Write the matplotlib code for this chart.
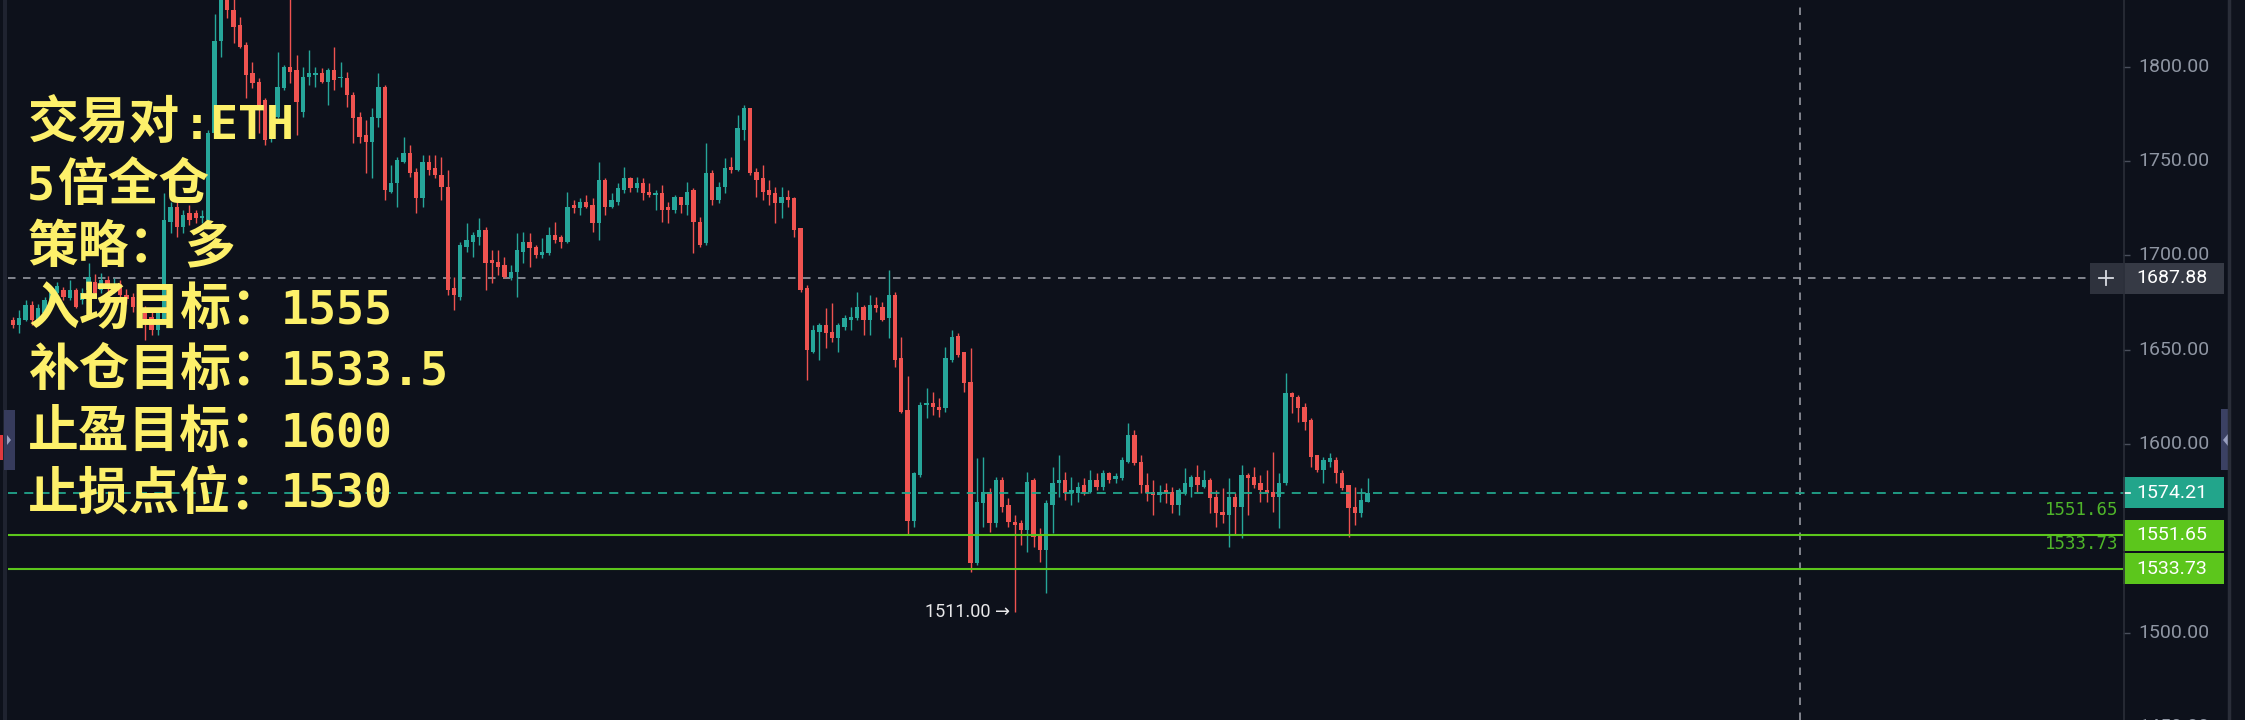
import matplotlib
matplotlib.use("Agg")
import matplotlib.pyplot as plt
from matplotlib.patches import Rectangle, Polygon
import matplotlib.transforms as mtransforms

# ---------------- data (ETH candles) ----------------
opens = [1665.8, 1663.1, 1665.8, 1673.7, 1666.0, 1669.3, 1676.0, 1680.0, 1681.7, 1677.3,
         1681.7, 1676.4, 1681.7, 1686.0, 1681.7, 1687.0, 1682.0, 1685.0, 1679.0, 1678.1,
         1673.0, 1671.0, 1667.5, 1660.5, 1665.8, 1718.0, 1725.9, 1715.3, 1722.4, 1722.4,
         1719.7, 1718.8, 1765.0, 1814.0, 1842.0, 1830.2, 1822.2, 1811.6, 1796.6, 1792.2,
         1782.5, 1762.0, 1773.6, 1788.6, 1800.1, 1798.4, 1776.3, 1794.8, 1795.7, 1796.6,
         1792.2, 1798.4, 1793.9, 1793.9, 1785.1, 1773.6, 1763.9, 1760.3, 1772.7, 1789.5,
         1733.8, 1738.3, 1749.8, 1754.2, 1744.4, 1730.3, 1749.8, 1746.2, 1742.7, 1736.5,
         1682.6, 1678.1, 1704.6, 1707.3, 1710.0, 1713.5, 1697.6, 1696.7, 1695.0, 1687.9,
         1691.4, 1702.0, 1707.3, 1704.6, 1700.2, 1701.1, 1710.8, 1710.0, 1707.3, 1726.8,
         1725.0, 1728.5, 1726.8, 1717.0, 1740.0, 1725.9, 1728.5, 1734.7, 1740.9, 1735.6,
         1738.3, 1733.8, 1732.1, 1733.0, 1725.9, 1724.1, 1731.2, 1726.8, 1734.8, 1718.0,
         1706.5, 1743.6, 1729.5, 1736.5, 1747.1, 1745.4, 1766.6, 1778.1, 1744.5, 1741.0,
         1734.8, 1733.0, 1727.7, 1731.2, 1730.3, 1714.4, 1682.6, 1649.0, 1659.6, 1663.2,
         1659.6, 1656.1, 1662.3, 1665.8, 1666.7, 1672.9, 1665.8, 1673.8, 1672.9, 1666.7,
         1679.0, 1645.5, 1618.0, 1558.9, 1583.6, 1620.7, 1622.0, 1619.8, 1619.0, 1644.6,
         1657.3, 1649.0, 1633.0, 1536.7, 1568.5, 1574.7, 1557.9, 1580.9, 1567.6, 1558.8,
         1557.9, 1554.4, 1580.9, 1551.7, 1543.8, 1567.6, 1579.1, 1580.9, 1574.2, 1573.8,
         1578.3, 1574.7, 1580.9, 1577.4, 1584.4, 1581.3, 1581.8, 1590.6, 1604.8, 1590.6,
         1578.3, 1574.7, 1573.0, 1575.6, 1574.7, 1567.6, 1573.8, 1577.4, 1582.7, 1577.4,
         1580.9, 1572.1, 1564.1, 1562.3, 1572.1, 1566.8, 1583.5, 1582.7, 1579.1, 1575.6,
         1574.7, 1572.1, 1579.1, 1626.9, 1625.1, 1619.8, 1612.7, 1594.2, 1586.2, 1590.6,
         1591.5, 1584.4, 1578.3, 1566.8, 1563.2, 1569.4]
highs = [1667.5, 1671.0, 1676.4, 1676.0, 1674.0, 1678.0, 1682.0, 1686.0, 1683.5, 1687.0,
         1682.6, 1683.0, 1695.8, 1690.0, 1690.5, 1689.0, 1688.0, 1687.0, 1682.0, 1680.0,
         1678.0, 1673.0, 1670.0, 1672.0, 1733.0, 1728.5, 1729.4, 1724.0, 1727.0, 1724.0,
         1724.0, 1766.5, 1828.0, 1848.0, 1850.0, 1838.0, 1826.7, 1813.4, 1802.8, 1794.0,
         1783.3, 1776.0, 1808.0, 1801.0, 1850.0, 1806.3, 1800.0, 1809.0, 1800.0, 1799.3,
         1799.3, 1810.8, 1802.8, 1797.5, 1786.9, 1776.3, 1771.9, 1778.0, 1796.6, 1790.4,
         1748.0, 1752.4, 1763.0, 1758.6, 1746.2, 1753.3, 1753.3, 1753.3, 1752.4, 1745.3,
         1688.8, 1707.0, 1717.0, 1712.6, 1719.7, 1715.3, 1702.9, 1702.9, 1699.4, 1695.0,
         1711.7, 1712.6, 1711.7, 1705.5, 1709.1, 1715.3, 1717.9, 1710.8, 1733.8, 1729.4,
         1730.3, 1732.0, 1730.3, 1749.8, 1740.9, 1733.0, 1738.3, 1747.1, 1741.8, 1741.8,
         1740.9, 1738.3, 1734.7, 1737.4, 1728.5, 1732.1, 1731.2, 1739.2, 1735.6, 1720.6,
         1759.5, 1745.4, 1739.2, 1751.6, 1752.4, 1774.5, 1779.8, 1778.1, 1746.3, 1748.0,
         1740.0, 1736.5, 1736.5, 1734.8, 1731.2, 1714.4, 1684.4, 1663.2, 1664.0, 1672.0,
         1674.7, 1664.0, 1668.5, 1672.9, 1680.8, 1673.8, 1679.0, 1678.1, 1675.5, 1692.3,
         1680.8, 1657.0, 1635.8, 1585.4, 1622.5, 1629.6, 1627.8, 1624.3, 1651.6, 1660.5,
         1658.7, 1649.0, 1650.7, 1592.4, 1593.3, 1576.5, 1582.7, 1582.7, 1571.2, 1562.3,
         1559.7, 1585.3, 1581.8, 1555.3, 1570.3, 1588.0, 1594.2, 1585.3, 1582.7, 1580.0,
         1581.8, 1586.2, 1584.4, 1586.2, 1585.3, 1584.4, 1593.3, 1611.0, 1607.4, 1594.2,
         1584.4, 1580.9, 1578.3, 1579.1, 1577.4, 1576.5, 1587.1, 1583.5, 1588.9, 1586.2,
         1581.8, 1575.6, 1576.5, 1581.8, 1573.8, 1588.9, 1584.4, 1588.0, 1583.5, 1586.2,
         1595.9, 1584.4, 1637.5, 1627.7, 1626.0, 1621.6, 1613.6, 1594.2, 1593.3, 1595.0,
         1593.3, 1586.2, 1578.3, 1577.4, 1576.5, 1581.8]
lows = [1661.4, 1658.7, 1665.0, 1663.0, 1664.0, 1668.0, 1674.0, 1678.0, 1676.4, 1676.4,
        1672.0, 1674.0, 1680.0, 1678.0, 1680.0, 1679.0, 1680.0, 1677.0, 1674.0, 1670.0,
        1669.0, 1655.2, 1658.0, 1658.0, 1664.0, 1711.7, 1710.0, 1712.0, 1716.0, 1717.0,
        1717.0, 1716.0, 1763.0, 1805.5, 1826.0, 1812.5, 1809.9, 1783.3, 1788.6, 1764.8,
        1758.6, 1760.0, 1772.7, 1787.8, 1791.3, 1763.9, 1773.6, 1790.4, 1789.5, 1791.3,
        1779.8, 1787.8, 1789.5, 1778.9, 1759.5, 1759.5, 1743.6, 1740.9, 1768.3, 1729.4,
        1733.0, 1725.9, 1748.9, 1741.8, 1722.3, 1725.9, 1742.7, 1740.9, 1729.4, 1679.0,
        1671.1, 1676.4, 1702.0, 1699.4, 1705.5, 1681.7, 1685.2, 1689.6, 1687.9, 1687.0,
        1678.1, 1695.8, 1694.0, 1698.5, 1698.5, 1700.2, 1706.4, 1703.8, 1706.4, 1722.3,
        1721.5, 1725.0, 1712.6, 1708.2, 1721.5, 1725.0, 1726.8, 1733.0, 1733.8, 1733.8,
        1729.4, 1731.2, 1724.1, 1718.0, 1717.0, 1722.3, 1722.3, 1721.5, 1701.2, 1704.7,
        1705.6, 1726.8, 1727.7, 1733.0, 1743.6, 1745.0, 1761.3, 1742.7, 1731.2, 1729.5,
        1726.8, 1717.1, 1719.7, 1725.9, 1710.0, 1680.8, 1634.0, 1648.1, 1644.6, 1650.8,
        1654.3, 1649.0, 1660.5, 1660.5, 1665.8, 1657.9, 1657.9, 1670.2, 1665.0, 1656.1,
        1641.1, 1616.3, 1551.8, 1556.2, 1582.7, 1613.7, 1615.4, 1614.5, 1617.2, 1643.7,
        1646.3, 1627.8, 1532.3, 1535.8, 1556.1, 1553.5, 1556.1, 1564.1, 1556.1, 1511.0,
        1546.4, 1542.9, 1545.5, 1537.6, 1520.8, 1552.6, 1572.1, 1570.3, 1567.6, 1569.4,
        1573.0, 1573.8, 1575.6, 1575.6, 1579.1, 1579.1, 1580.9, 1589.7, 1588.8, 1573.8,
        1570.0, 1562.3, 1569.4, 1568.5, 1563.2, 1562.3, 1572.9, 1572.1, 1574.7, 1576.5,
        1563.2, 1556.1, 1557.9, 1545.5, 1551.7, 1550.0, 1562.3, 1576.5, 1569.4, 1569.4,
        1564.1, 1555.2, 1578.3, 1616.2, 1611.8, 1607.4, 1588.0, 1585.3, 1579.1, 1588.0,
        1579.1, 1575.6, 1550.8, 1557.0, 1561.4, 1569.4]
closes = [1663.1, 1666.7, 1673.7, 1665.8, 1672.0, 1676.4, 1680.0, 1684.0, 1678.1, 1681.7,
          1672.9, 1679.9, 1688.8, 1679.9, 1687.0, 1682.0, 1685.0, 1679.0, 1677.0, 1672.9,
          1675.0, 1665.8, 1660.5, 1669.3, 1718.8, 1725.9, 1715.3, 1721.5, 1718.8, 1719.7,
          1721.0, 1764.8, 1814.0, 1840.0, 1830.0, 1821.4, 1810.8, 1795.7, 1791.3, 1778.9,
          1761.2, 1772.0, 1789.5, 1800.1, 1797.5, 1781.6, 1794.8, 1796.6, 1796.6, 1792.2,
          1798.4, 1793.1, 1794.8, 1785.1, 1772.7, 1763.0, 1760.3, 1773.6, 1789.5, 1734.7,
          1738.3, 1750.6, 1754.2, 1743.6, 1730.3, 1749.8, 1745.3, 1742.7, 1736.5, 1681.7,
          1679.0, 1705.5, 1708.2, 1710.8, 1713.5, 1695.8, 1695.8, 1694.0, 1688.8, 1691.4,
          1702.9, 1707.3, 1703.8, 1700.2, 1702.0, 1710.8, 1708.2, 1707.3, 1725.9, 1725.0,
          1728.5, 1725.9, 1717.0, 1740.0, 1725.9, 1729.4, 1735.6, 1740.9, 1735.6, 1738.3,
          1733.0, 1732.1, 1733.0, 1724.1, 1724.1, 1731.2, 1726.8, 1733.8, 1718.0, 1705.6,
          1743.6, 1729.5, 1736.5, 1746.3, 1745.4, 1767.5, 1778.1, 1743.6, 1740.0, 1733.9,
          1732.1, 1727.7, 1731.2, 1729.5, 1713.5, 1681.7, 1649.9, 1660.5, 1663.2, 1658.7,
          1656.1, 1663.2, 1666.7, 1667.6, 1672.9, 1665.8, 1673.8, 1672.0, 1665.8, 1679.0,
          1644.6, 1617.2, 1558.9, 1584.5, 1620.7, 1622.0, 1619.8, 1618.0, 1645.4, 1657.0,
          1647.2, 1632.2, 1536.7, 1569.4, 1574.7, 1557.9, 1580.9, 1566.8, 1558.8, 1557.0,
          1554.4, 1580.0, 1550.9, 1543.8, 1568.5, 1579.1, 1580.9, 1573.8, 1575.6, 1577.4,
          1574.7, 1580.9, 1577.4, 1584.4, 1580.9, 1583.0, 1591.5, 1604.8, 1589.7, 1578.3,
          1573.8, 1573.0, 1574.7, 1573.8, 1567.6, 1575.6, 1579.1, 1582.7, 1578.3, 1580.9,
          1571.2, 1563.2, 1562.3, 1572.1, 1566.8, 1583.5, 1581.8, 1578.3, 1575.6, 1573.8,
          1572.1, 1579.1, 1626.9, 1625.1, 1618.9, 1611.8, 1593.3, 1586.2, 1591.5, 1592.4,
          1584.4, 1576.5, 1565.9, 1563.2, 1570.3, 1574.21]

price_ticks = [1450, 1500, 1600, 1650, 1700, 1750, 1800]
last_price = 1574.21
crosshair_price = 1687.88
level_prices = [1551.65, 1533.73]
low_mark_index = 159
low_mark_price = 1511.00
crosshair_bar = 283.7  # future bar index under the vertical crosshair

text_lines = [
    [(28, "交易对", "cjk"), (183, ":ETH", "mono")],
    [(27, "5", "mono"), (57, "倍全仓", "cjk")],
    [(28, "策略：", "cjk"), (184, "多", "cjk")],
    [(28, "入场目标：", "cjk"), (281, "1555", "mono")],
    [(28, "补仓目标：", "cjk"), (281, "1533.5", "mono")],
    [(28, "止盈目标：", "cjk"), (281, "1600", "mono")],
    [(28, "止损点位：", "cjk"), (281, "1530", "mono")],
]
text_baselines = [139, 200, 262, 324, 385, 447, 508]

# ---------------- style ----------------
W, H = 2245, 720
BG = "#0d111b"
UP = "#26a69a"
DOWN = "#ef5350"
TEAL = "#22a58b"
GREEN = "#5cc61c"
GREEN_TXT = "#4fb52a"
AX_TXT = "#8f96a3"
GRID_GRAY = "#9598a1"
PANEL = "#2a2e39"
YELLOW = "#fdf06a"

Y_TOP, Y_BOT = 1835.5, 1453.6
PLOT_L, PLOT_R = 8, 2123
AXIS_R = 2228
BAR_X0, BAR_DX = 13.0, 6.3


def px_to_bar(px):
    return (px - BAR_X0) / BAR_DX


def price_to_py(p):
    return (Y_TOP - p) / (Y_TOP - Y_BOT) * H


fig = plt.figure(figsize=(W / 100, H / 100), dpi=100, facecolor=BG)

# main chart pane
ax = fig.add_axes([PLOT_L / W, 0, (PLOT_R - PLOT_L) / W, 1])
ax.set_facecolor(BG)
ax.set_xlim(px_to_bar(PLOT_L), px_to_bar(PLOT_R))
ax.set_ylim(Y_BOT, Y_TOP)
ax.axis("off")

idx = list(range(len(opens)))
colors = [UP if c >= o else DOWN for o, c in zip(opens, closes)]
bottoms = [min(o, c) for o, c in zip(opens, closes)]
heights = [max(abs(c - o), 0.7) for o, c in zip(opens, closes)]
ax.vlines(idx, lows, highs, colors=colors, linewidth=1.0, zorder=3)
ax.bar(idx, heights, bottom=bottoms, width=0.68, color=colors, linewidth=0, zorder=4)

# horizontal levels
for lp in level_prices:
    ax.axhline(lp, color=GREEN, lw=1.5, zorder=5)
ax.axhline(last_price, color=TEAL, lw=1.3, dashes=(5, 4), zorder=5)
ax.axhline(crosshair_price, xmax=(2090 - PLOT_L) / (PLOT_R - PLOT_L), color=GRID_GRAY,
           lw=1.2, dashes=(4.5, 4.5), zorder=2)
ax.axvline(crosshair_bar, color=GRID_GRAY, lw=1.2, dashes=(4.5, 4.5), zorder=2)

# level text labels left of the axis
blend = mtransforms.blended_transform_factory(ax.transAxes, ax.transData)
for lp in level_prices:
    ax.annotate(f"{lp:.2f}", xy=((2118 - PLOT_L) / (PLOT_R - PLOT_L), lp), xycoords=blend,
                xytext=(0, 18), textcoords="offset points", ha="right", va="center",
                color=GREEN_TXT, fontsize=12.5, family="DejaVu Sans Mono", zorder=6)

# lowest price annotation
ax.annotate(f"{low_mark_price:.2f} →", xy=(low_mark_index, low_mark_price), xytext=(-3, 0),
            textcoords="offset points", ha="right", va="center", color="#e8e8ea",
            fontsize=13, family=["Roboto", "DejaVu Sans"], zorder=6)

# price axis pane
pax = fig.add_axes([PLOT_R / W, 0, (AXIS_R - PLOT_R) / W, 1])
pax.set_facecolor(BG)
pax.set_xlim(0, AXIS_R - PLOT_R)
pax.set_ylim(Y_BOT, Y_TOP)
pax.axis("off")
pax.hlines(price_ticks, 0, 7, color="#4a4f5c", lw=1)
for t in price_ticks:
    pax.text(15, t, f"{t:.2f}", ha="left", va="center", color=AX_TXT, fontsize=14,
             family="Roboto", clip_on=False)

hh = 15.5 / H * (Y_TOP - Y_BOT)
boxes = [(crosshair_price, "#363a45"), (last_price, TEAL),
         (level_prices[0], GREEN), (level_prices[1], GREEN)]
for p, col in boxes:
    pax.add_patch(Rectangle((0, p - hh), 101, 2 * hh, color=col, lw=0, zorder=5))
    pax.text(49, p, f"{p:.2f}", ha="center", va="center", color="white", fontsize=14,
             family="Roboto", zorder=6)
pax.plot([0, 7], [last_price, last_price], color="white", lw=1.2, zorder=6)

# overlay in pixel units for decorations and text block
ov = fig.add_axes([0, 0, 1, 1])
ov.set_xlim(0, W)
ov.set_ylim(H, 0)
ov.axis("off")
ov.patch.set_alpha(0)

# panel separators
ov.add_patch(Rectangle((3, 0), 4, H, color="#1f2330", lw=0))
ov.plot([PLOT_R + 0.5, PLOT_R + 0.5], [0, H], color=PANEL, lw=1.2)
ov.plot([AXIS_R + 0.5, AXIS_R + 0.5], [0, H], color=PANEL, lw=2.5)
ov.add_patch(Rectangle((AXIS_R + 2, 0), W - AXIS_R - 2, H, color="#0f131d", lw=0))

# crosshair "+" box
cy = price_to_py(crosshair_price)
ov.add_patch(Rectangle((2090, cy - 15.5), PLOT_R - 2090, 31, color="#2e323d", lw=0, zorder=5))
ov.plot([2099, 2113], [cy, cy], color="#d8dbe2", lw=1.3, zorder=6)
ov.plot([2106, 2106], [cy - 7, cy + 7], color="#d8dbe2", lw=1.3, zorder=6)

# side tabs
ov.add_patch(Rectangle((0, 435), 3, 25, color="#e0393e", lw=0))
ov.add_patch(Rectangle((4, 410), 11, 60, color="#363b5c", lw=0))
ov.add_patch(Polygon([[7, 435], [11, 440], [7, 445]], closed=True, color="#9aa0c0", lw=0))
ov.add_patch(Rectangle((2221, 409), 10, 61, color="#3b4163", lw=0))
ov.add_patch(Polygon([[2228, 434], [2223, 440], [2228, 446]], closed=True, color="#9aa0c0", lw=0))

# yellow strategy text
for segs, base in zip(text_lines, text_baselines):
    for x, s, kind in segs:
        if kind == "cjk":
            ov.text(x, base, s, ha="left", va="baseline", color=YELLOW, fontsize=36.5,
                    fontweight="bold", family=["Noto Sans CJK SC", "DejaVu Sans"], zorder=10)
        else:
            ov.text(x, base, s, ha="left", va="baseline", color=YELLOW, fontsize=33.5,
                    fontweight="bold", family=["DejaVu Sans Mono", "Noto Sans CJK SC"], zorder=10)

fig.savefig("out.png", dpi=100, facecolor=BG)
